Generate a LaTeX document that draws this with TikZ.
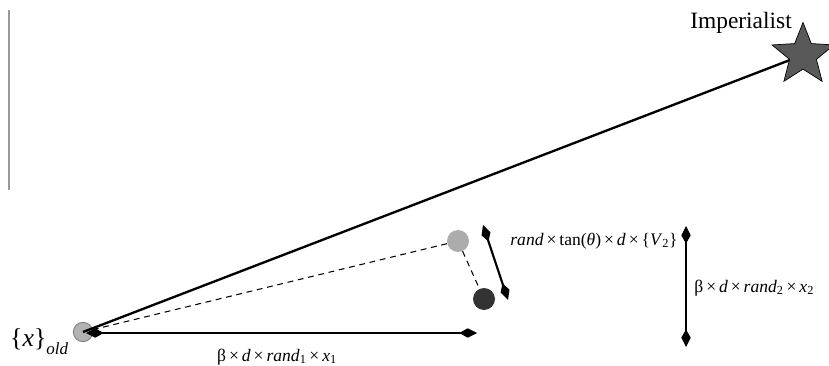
\documentclass[tikz,border=0pt]{standalone}
\usepackage{fontspec}
\setmainfont{Liberation Serif}
\usetikzlibrary{positioning,arrows.meta,shapes.geometric}

\newcommand{\vi}[1]{\textit{#1}}
\newcommand{\sbs}[1]{\textsubscript{#1}}

\begin{document}
\begin{tikzpicture}[x=0.03cm,y=-0.03cm,
  dot/.style={circle,inner sep=0pt,minimum size=0.66cm},
  imperial/.style={star,star points=5,star point ratio=2.3,minimum size=1.95cm,inner sep=0pt,
        fill=black!65,draw=black,line width=0.6pt},
  dblarrow/.style={line width=1.8pt,{Kite[length=15pt,width=8pt,inset=7pt]}-{Kite[length=15pt,width=8pt,inset=7pt]}},
  lbl/.style={font=\fontsize{15}{17}\selectfont,inner sep=1pt}]
  \useasboundingbox (0,0) rectangle (829,366);
  % left rule
  \draw[gray!80,line width=1.8pt] (9,10) -- (9,190);
  % points
  \node[dot,minimum size=0.58cm,fill=gray!60,draw=gray,line width=0.8pt] (old) at (83,332) {};
  \node[dot,fill=gray!65] (mid) at (458,241) {};
  \node[dot,fill=black!80] (new) at (484,299) {};
  \coordinate (imp) at (803,55);
  % connections
  \draw[line width=2pt] (old.center) -- (imp);
  \node[imperial] (star) at (imp) {};
  \draw[dashed,line width=0.9pt,dash pattern=on 5pt off 4pt] (old) -- (mid);
  \draw[dashed,line width=0.9pt,dash pattern=on 5pt off 4pt] (mid) -- (new);
  % arrows
  \coordinate (h1) at (86,333);
  \coordinate (h2) at (477,333);
  \draw[dblarrow] (h1) -- (h2);
  \coordinate (s1) at (483,225);
  \coordinate (s2) at (508,300);
  \draw[dblarrow] (s1) -- (s2);
  \coordinate (v1) at (686,226);
  \coordinate (v2) at (686,347);
  \draw[dblarrow] (v1) -- (v2);
  % labels
  \node[font=\fontsize{20}{22}\selectfont,anchor=base] (implbl) at (741,29) {Imperialist};
  \node[anchor=base west,inner sep=0pt] (oldlbl) at (10,346)
    {\fontsize{22}{24}\selectfont\{\vi{x}\}\raisebox{-7pt}{\fontsize{14.5}{16}\selectfont\vi{old}}};
  \node[lbl,anchor=base] (l1) at (277,361) {β\,×\,\vi{d}\,×\,\vi{rand}\sbs{1}\,×\,\vi{x}\sbs{1}};
  \node[lbl,anchor=base west] (l2) at (509,245) {\vi{rand}\,×\,tan(\vi{θ})\,×\,\vi{d}\,×\,\{\vi{V}\sbs{2}\}};
  \node[lbl,anchor=base west] (l3) at (693,292) {β\,×\,\vi{d}\,×\,\vi{rand}\sbs{2}\,×\,\vi{x}\sbs{2}};
\end{tikzpicture}
\end{document}
